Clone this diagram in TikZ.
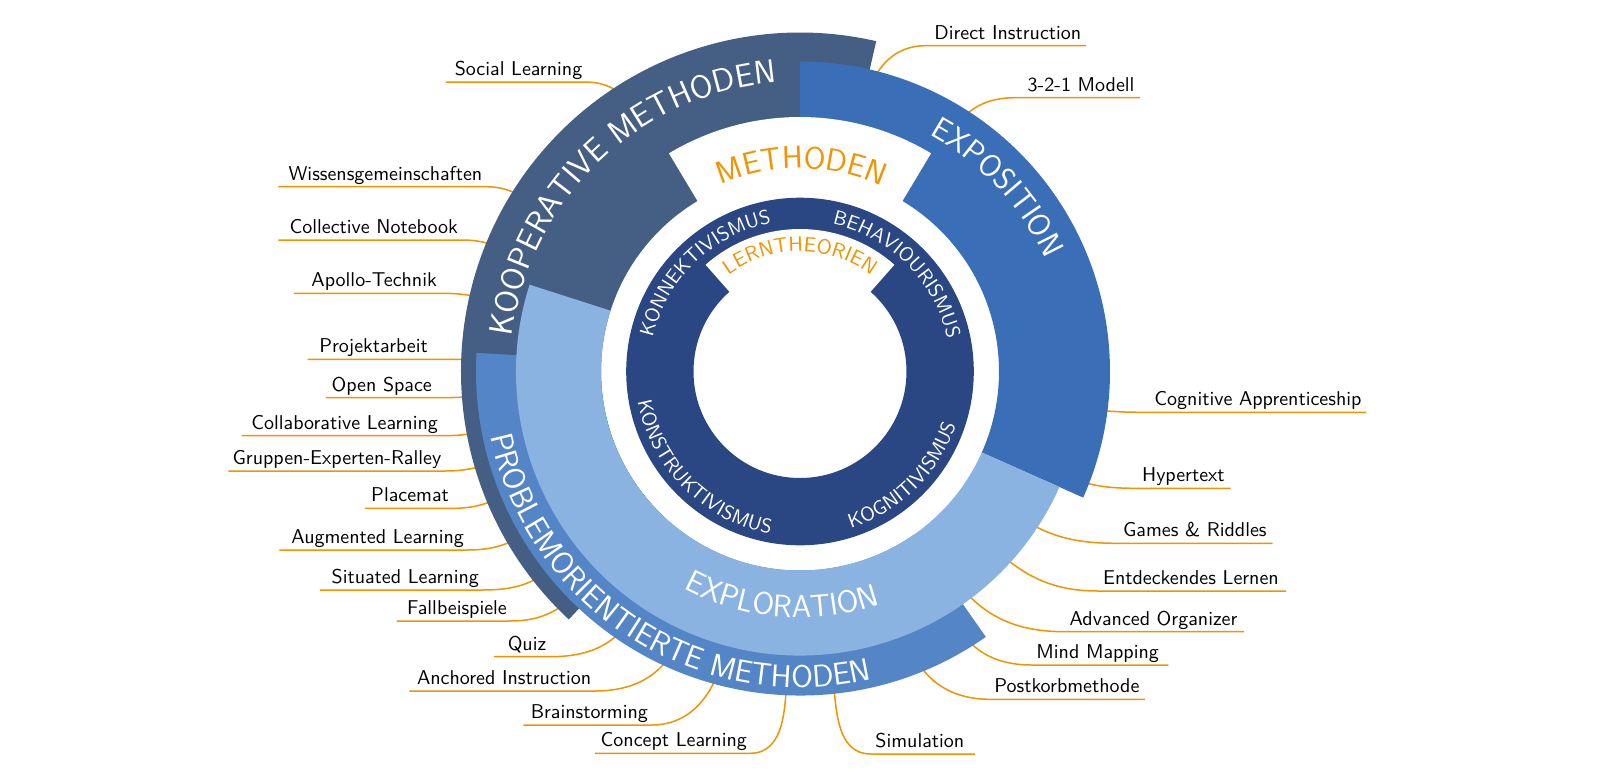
\documentclass[tikz,border=0pt]{standalone}
\usepackage{fontspec}
\renewcommand\familydefault{\sfdefault}
\usetikzlibrary{decorations.text}
\definecolor{cnavy}{HTML}{2A4783}
\definecolor{ckoop}{HTML}{455E84}
\definecolor{cexpo}{HTML}{3A6FB7}
\definecolor{cexplo}{HTML}{8AB3E1}
\definecolor{cprob}{HTML}{5485C6}
\definecolor{corange}{HTML}{F29400}
\newcommand\ringfontL{\fontsize{15.7pt}{18pt}\selectfont}
\newcommand\ringfontK{\fontsize{16.4pt}{18pt}\selectfont}
\newcommand\ringfontS{\fontsize{10pt}{12pt}\selectfont}
\newcommand\ringfontM{\fontsize{10.3pt}{12pt}\selectfont}
% annular sector: colour, start angle, end angle, inner r, outer r
\newcommand\annsector[5]{\fill[#1] (#2:#4) arc[start angle=#2, end angle=#3, radius=#4] -- (#3:#5) arc[start angle=#3, end angle=#2, radius=#5] -- cycle;}
% text on arc, clockwise (tops outward): colour, font, centre angle, radius, text
\newcommand\arctextcw[5]{\path[decorate, decoration={text along path, text={|#2|#5}, text color=#1, text align=center}] ({#3+80}:#4) arc[start angle={#3+80}, end angle={#3-80}, radius=#4];}
% text on arc, counter-clockwise (tops inward)
\newcommand\arctextccw[5]{\path[decorate, decoration={text along path, text={|#2|#5}, text color=#1, text align=center}] ({#3-80}:#4) arc[start angle={#3-80}, end angle={#3+80}, radius=#4];}
% left label: name, text, text right x, line y, outer x, curve x, angle, radius
\newcommand\labL[8]{%
  \node[lab, anchor=base east] (#1) at ({#3-800},{378-#4}) {#2};
  \coordinate (#1-a) at (#7:{#8-25});
  \coordinate (#1-b) at ({#6-800},{371.5-#4});
  \coordinate (#1-c) at ({#5-800},{371.5-#4});
  \draw[conn] (#1-a) to[out=#7, in=0] (#1-b) -- (#1-c);}
% right label: name, text, text left x, line y, outer x, curve x, angle, radius
\newcommand\labR[8]{%
  \node[lab, anchor=base west] (#1) at ({#3-800},{378-#4}) {#2};
  \coordinate (#1-a) at (#7:{#8-25});
  \coordinate (#1-b) at ({#6-800},{371.5-#4});
  \coordinate (#1-c) at ({#5-800},{371.5-#4});
  \draw[conn] (#1-a) to[out=#7, in=180] (#1-b) -- (#1-c);}
\tikzset{
  lab/.style={font=\fontsize{10pt}{12pt}\selectfont, inner sep=0pt, text=black},
  conn/.style={draw=corange, line width=0.75pt}
}
\begin{document}
\begin{tikzpicture}[x=0.5pt, y=0.5pt]
\useasboundingbox[fill=white] (-800,-411.5) rectangle (800,371.5);
% left labels (connectors start under the rings)
\labL{l1}{Social Learning}{582.7}{82}{446}{585}{122.5}{338}
\labL{l2}{Wissensgemeinschaften}{482.7}{186.7}{278.3}{486}{147.8}{338}
\labL{l3}{Collective Notebook}{458.3}{240}{278.3}{462}{157.5}{338}
\labL{l4}{Apollo-Technik}{437.3}{293.3}{294}{441}{166.9}{338}
\labL{l5}{Projektarbeit}{428.3}{359.3}{307.7}{434}{177.9}{338}
\labL{l6}{Open Space}{432.3}{397.7}{326}{436}{184.4}{338}
\labL{l7}{Collaborative Learning}{438.3}{435.7}{241.7}{442}{190.8}{338.5}
\labL{l8}{Gruppen-Experten-Ralley}{441.7}{471}{228.3}{445}{196.6}{339}
\labL{l9}{Placemat}{449.3}{508.3}{365}{453}{202.9}{339}
\labL{l10}{Augmented Learning}{464.3}{550}{279.3}{467}{210.7}{339}
\labL{l11}{Situated Learning}{479.3}{590}{320}{482}{218.5}{339.5}
\labL{l12}{Fallbeispiele}{507.3}{621}{396.7}{510}{224.8}{339.5}
\labL{l13}{Quiz}{546.7}{656.7}{494}{550}{235.7}{324}
\labL{l14}{Anchored Instruction}{591.7}{691}{409.3}{595}{245.6}{324}
\labL{l15}{Brainstorming}{648.3}{725}{523.3}{652}{254.9}{324}
\labL{l16}{Concept Learning}{747.3}{753.3}{595}{750}{267.5}{324}
% right labels
\labR{r1}{Direct Instruction}{934}{45.7}{1086}{925}{76.1}{311}
\labR{r2}{3-2-1 Modell}{1027.3}{97.7}{1140}{1015}{57.6}{310}
\labR{r3}{Cognitive Apprenticeship}{1154}{412.3}{1366}{1145}{-7.4}{310}
\labR{r4}{Hypertext}{1141.7}{488.3}{1230.7}{1137}{-21.5}{310}
\labR{r5}{Games \& Riddles}{1122.7}{543.3}{1272.7}{1118}{-33.6}{284}
\labR{r6}{Entdeckendes Lernen}{1102.7}{591}{1286}{1098}{-42.4}{284}
\labR{r7}{Advanced Organizer}{1069.3}{631.7}{1244}{1065}{-53.3}{284}
\labR{r8}{Mind Mapping}{1036}{665}{1168.3}{1032}{-58.3}{324}
\labR{r9}{Postkorbmethode}{994}{699.3}{1145}{990}{-68.1}{325}
\labR{r10}{Simulation}{875}{754}{975}{871}{-83.8}{324}
% method segments
\annsector{ckoop}{77}{227}{199}{339}
\annsector{cexpo}{-24}{90}{199}{310}
\annsector{cprob}{176.7}{305}{199}{324}
\annsector{cexplo}{162.2}{336}{199}{284}
% METHODEN notch
\annsector{white}{59}{121}{185}{254.5}
% theory ring
\fill[cnavy, even odd rule] (0,0) circle[radius=173.8] (0,0) circle[radius=106.5];
\annsector{white}{48.5}{131.5}{100}{142.5}
% ring texts
\arctextcw{corange}{\ringfontL}{89.5}{203}{METHODEN}
\arctextcw{corange}{\ringfontM}{90}{120}{LERNTHEORIEN}
\arctextcw{white}{\ringfontS}{134}{151}{KONNEKTIVISMUS}
\arctextcw{white}{\ringfontS}{45}{151}{BEHAVIOURISMUS}
\arctextccw{white}{\ringfontS}{225}{165}{KONSTRUKTIVISMUS}
\arctextccw{white}{\ringfontS}{314.5}{165}{KOGNITIVISMUS}
\arctextcw{white}{\ringfontK}{133.8}{290}{KOOPERATIVE METHODEN}
\arctextcw{white}{\ringfontL}{43}{270}{EXPOSITION}
\arctextccw{white}{\ringfontL}{265.5}{246}{EXPLORATION}
\arctextccw{white}{\ringfontL}{237.5}{316}{PROBLEMORIENTIERTE METHODEN}
\end{tikzpicture}
\end{document}
